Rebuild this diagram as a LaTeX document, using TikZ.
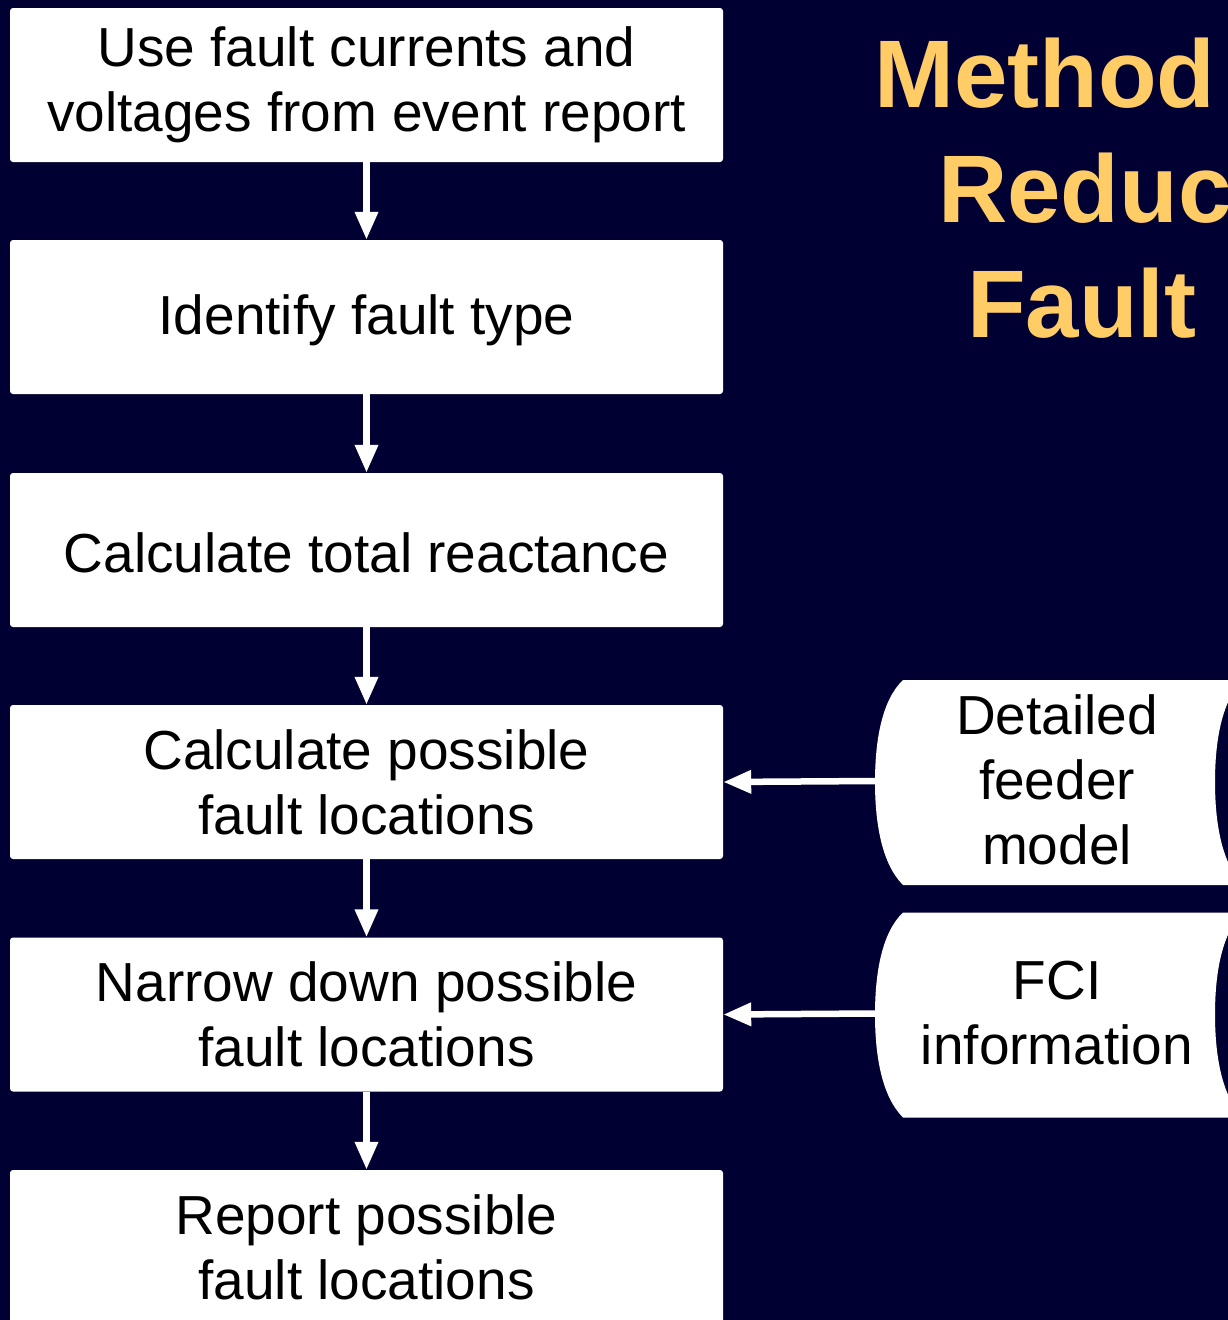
\documentclass[tikz,border=0pt]{standalone}
\usepackage{fontspec}
\setmainfont{Liberation Sans}
\usetikzlibrary{arrows.meta}
\definecolor{bgnavy}{HTML}{000033}
\definecolor{titlegold}{HTML}{FFCC66}
\begin{document}
\begin{tikzpicture}[x=1pt,y=-1pt,
  stepbox/.style={fill=white, rounded corners=3pt, minimum width=713pt,
    minimum height=154pt, inner sep=0pt, align=center,
    font=\fontsize{55}{65}\selectfont,
    execute at begin node={\rule{0pt}{46pt}}},
  storetext/.style={inner sep=0pt, align=center, font=\fontsize{55}{65}\selectfont},
  flow/.style={white, line width=6.5pt, -{Triangle[width=22pt,length=28pt]}},
  headline/.style={titlegold, inner sep=0pt, anchor=base west,
    font=\fontsize{96}{115}\selectfont\bfseries}]
  % canvas
  \clip (0,0) rectangle (1228,1320);
  \fill[bgnavy] (0,0) rectangle (1228,1320);

  % title
  \node[headline] (t1) at (874,107) {Method};
  \node[headline] (t2) at (938,222) {Reduc};
  \node[headline] (t3) at (967,337) {Fault};

  % process steps
  \node[stepbox] (s1) at (366.5,85)   {Use fault currents and\\voltages from event report};
  \node[stepbox] (s2) at (366.5,317)  {Identify fault type};
  \node[stepbox] (s3) at (366.5,550)  {Calculate total reactance};
  \node[stepbox] (s4) at (366.5,782)  {Calculate possible\\fault locations};
  \node[stepbox] (s5) at (366.5,1014.5) {Narrow down possible\\fault locations};
  \node[stepbox] (s6) at (366.5,1247) {Report possible\\fault locations};

  % stored-data inputs
  \foreach \dy/\nm in {0/feederL, 232.5/fciL} {
    \begin{scope}[yshift=-\dy pt]
      \fill[white] (903,680) -- (1243,680)
        .. controls (1222,700) and (1215,740) .. (1215,782)
        .. controls (1215,824) and (1222,864) .. (1243,885)
        -- (903,885)
        .. controls (882,864) and (875,824) .. (875,782)
        .. controls (875,740) and (882,700) .. (903,680) -- cycle;
      \coordinate (\nm) at (875,781);
    \end{scope}
  }
  \node[storetext] (feeder) at (1057,780) {Detailed\\feeder\\model};
  \node[storetext] (fci) at (1057,1013) {FCI\\information};

  % connectors
  \draw[flow] (s1) -- (s2);
  \draw[flow] (s2) -- (s3);
  \draw[flow] (s3) -- (s4);
  \draw[flow] (s4) -- (s5);
  \draw[flow] (s5) -- (s6);
  \draw[flow] (feederL) -- (s4.east);
  \draw[flow] (fciL) -- (s5.east);
\end{tikzpicture}
\end{document}
